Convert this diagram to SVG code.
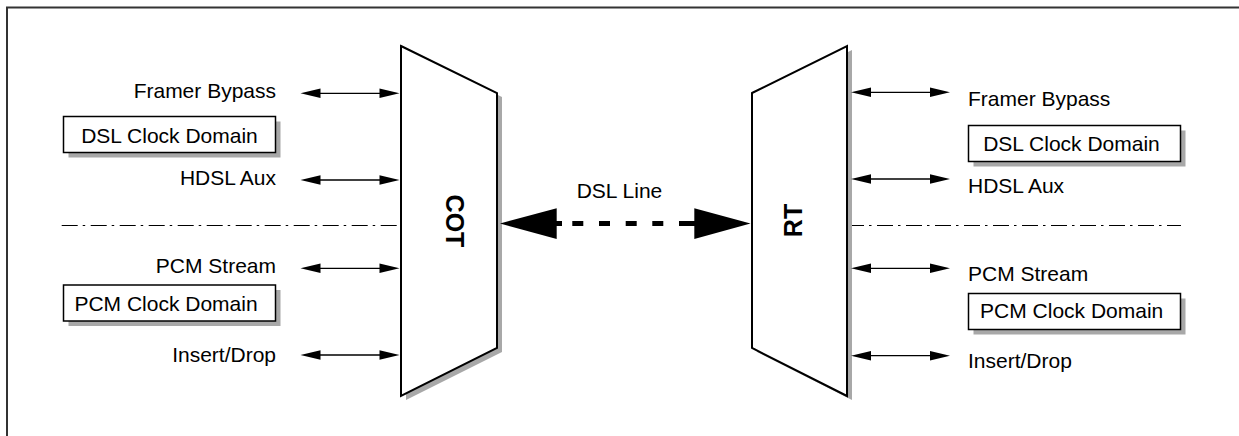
<svg xmlns="http://www.w3.org/2000/svg" width="1239" height="436" viewBox="0 0 1239 436">
  <style>
    text { font-family: "Liberation Sans", Arial, Helvetica, sans-serif; fill: #000; }
    .lbl { font-size: 21px; }
    .unit { font-size: 25px; font-weight: bold; }
    .shadow { fill: #a8a8a8; stroke: none; }
    .block { fill: #fff; stroke: #000; stroke-width: 2; stroke-linejoin: miter; }
    .box { fill: #fff; stroke: #000; stroke-width: 1.5; }
    .sig { stroke: #000; stroke-width: 1.3; fill: none; }
    .head { fill: #000; stroke: none; }
    .divider { stroke: #000; stroke-width: 1.2; stroke-dasharray: 16 5 2.5 5.5; fill: none; }
    .dsl { stroke: #000; stroke-width: 5; fill: none; }
  </style>
  <defs>
    <!-- small double-headed arrow, 99 px long, drawn from its left tip -->
    <g id="biArrow">
      <line class="sig" x1="10" y1="0" x2="89" y2="0"/>
      <polygon class="head" points="0,0 20,-4.8 20,4.8"/>
      <polygon class="head" points="99,0 79,-4.8 79,4.8"/>
    </g>
  </defs>

  <rect x="0" y="0" width="1239" height="436" fill="#fff"/>

  <!-- page frame -->
  <path d="M7 436 V7.5 H1239" fill="none" stroke="#333" stroke-width="2"/>

  <!-- clock domain dividers -->
  <g id="dividers">
    <line class="divider" x1="61.7" y1="225.5" x2="400" y2="225.5"/>
    <line class="divider" x1="848" y1="225.5" x2="1181" y2="225.5"/>
  </g>

  <!-- COT block -->
  <g id="cot">
    <polygon class="shadow" points="406,50 502,97 502,352 406,400"/>
    <polygon class="block" points="401,46 497,93 497,348 401,396"/>
    <text class="unit" transform="translate(446,221) rotate(90)" text-anchor="middle">COT</text>
  </g>

  <!-- RT block -->
  <g id="rt">
    <polygon class="shadow" points="757,97 852,50 852,400 757,352"/>
    <polygon class="block" points="752,93 847,46 847,396 752,348"/>
    <text class="unit" transform="translate(802,220.5) rotate(-90)" text-anchor="middle">RT</text>
  </g>

  <!-- clock domain boxes -->
  <g id="cot-dsl-domain">
    <rect class="shadow" x="68.5" y="121.5" width="212" height="36"/>
    <rect class="box" x="63.5" y="116.5" width="212" height="36"/>
    <text class="lbl" x="169.5" y="142.7" text-anchor="middle">DSL Clock Domain</text>
  </g>
  <g id="cot-pcm-domain">
    <rect class="shadow" x="68.5" y="290" width="212" height="36"/>
    <rect class="box" x="63.5" y="285" width="212" height="36"/>
    <text class="lbl" x="166" y="310.7" text-anchor="middle">PCM Clock Domain</text>
  </g>
  <g id="rt-dsl-domain">
    <rect class="shadow" x="973.5" y="130.5" width="212" height="36"/>
    <rect class="box" x="968.5" y="125.5" width="212" height="36"/>
    <text class="lbl" x="1071.5" y="150.7" text-anchor="middle">DSL Clock Domain</text>
  </g>
  <g id="rt-pcm-domain">
    <rect class="shadow" x="973.5" y="298.5" width="212" height="36"/>
    <rect class="box" x="968.5" y="293.5" width="212" height="36"/>
    <text class="lbl" x="1071.7" y="318.3" text-anchor="middle">PCM Clock Domain</text>
  </g>

  <!-- interface labels -->
  <g id="cot-labels">
    <text class="lbl" x="276" y="98.3" text-anchor="end">Framer Bypass</text>
    <text class="lbl" x="276" y="185" text-anchor="end">HDSL Aux</text>
    <text class="lbl" x="276" y="273.3" text-anchor="end">PCM Stream</text>
    <text class="lbl" x="276" y="361.7" text-anchor="end">Insert/Drop</text>
  </g>
  <g id="rt-labels">
    <text class="lbl" x="968" y="105.7">Framer Bypass</text>
    <text class="lbl" x="968" y="193.3">HDSL Aux</text>
    <text class="lbl" x="968" y="280.7">PCM Stream</text>
    <text class="lbl" x="968" y="368.3">Insert/Drop</text>
  </g>
  <text id="dsl-line-label" class="lbl" x="619.5" y="197.7" text-anchor="middle">DSL Line</text>

  <!-- connectors -->
  <g id="connectors">
    <use href="#biArrow" x="300.5" y="93.3"/>
    <use href="#biArrow" x="300.5" y="180"/>
    <use href="#biArrow" x="300.5" y="268.3"/>
    <use href="#biArrow" x="300.5" y="355"/>

    <use href="#biArrow" x="851" y="92.3"/>
    <use href="#biArrow" x="851" y="179"/>
    <use href="#biArrow" x="851" y="268.3"/>
    <use href="#biArrow" x="851" y="355.7"/>

    <!-- DSL line between COT and RT -->
    <path class="dsl" d="M552 223.5 H562 M572.3 223.5 H583.3 M599 223.5 H610 M625.7 223.5 H636.7 M652.3 223.5 H663.3 M679 223.5 H697"/>
    <polygon class="head" points="500,223.5 556.7,208.3 556.7,239"/>
    <polygon class="head" points="750.5,223.5 694.3,208.3 694.3,239"/>
  </g>
</svg>
